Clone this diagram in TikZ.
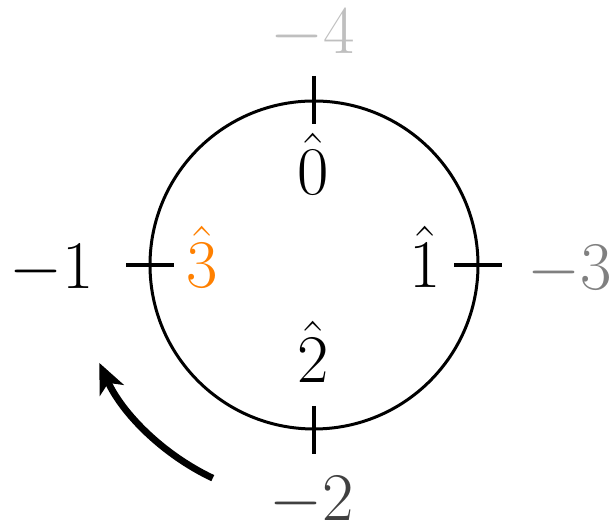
\documentclass[tikz,border=0pt]{standalone}
\usetikzlibrary{arrows.meta,calc}
\definecolor{myorange}{RGB}{255,128,0}
\begin{document}
\begin{tikzpicture}[x=0.5pt,y=0.5pt,
  lbl/.style={anchor=base,inner sep=0pt,font=\Huge,scale=1.37},
  tick/.style={line width=2pt},
  ring/.style={line width=1.5pt}]
\useasboundingbox (0,0) rectangle (611,528);
\coordinate (c) at (314,263);
\draw[ring] (c) circle[radius=164];
% ticks
\coordinate (t1) at (314,452); \coordinate (t2) at (314,404);
\coordinate (b1) at (314,122); \coordinate (b2) at (314,74);
\coordinate (l1) at (126,263); \coordinate (l2) at (174,263);
\coordinate (r1) at (454,263); \coordinate (r2) at (502,263);
\draw[tick] (t1) -- (t2);
\draw[tick] (b1) -- (b2);
\draw[tick] (l1) -- (l2);
\draw[tick] (r1) -- (r2);
% outer labels
\node[lbl,text=black!25] (m4) at (313,474) {$-4$};
\node[lbl,text=black!50] (m3) at (570,238) {$-3$};
\node[lbl] (m1) at (52,239) {$-1$};
\node[lbl,text=black!75] (m2) at (312,7) {$-2$};
% inner labels
\node[lbl] (h0) at (313,333) {$\hat{0}$};
\node[lbl] (h1) at (425,240) {$\hat{1}$};
\node[lbl] (h2) at (313,145) {$\hat{2}$};
\node[lbl,text=myorange] (h3) at (202,240) {$\hat{3}$};
% arrow
\coordinate (as) at ($(c)+(244.6:236)$);
\draw[line width=3.4pt,-{Stealth[length=15pt,width=13pt,inset=4pt]}]
  (as) arc[start angle=244.6,end angle=204.5,radius=236];
\end{tikzpicture}
\end{document}
